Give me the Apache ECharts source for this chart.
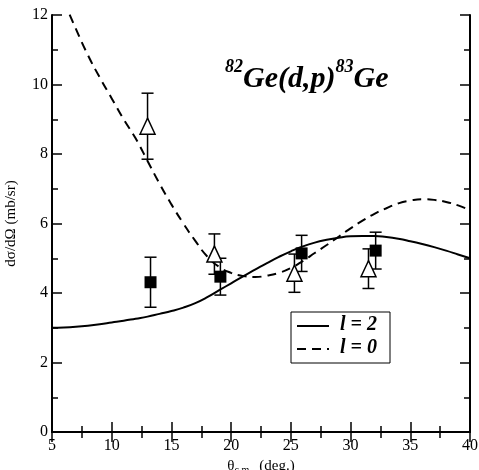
<!DOCTYPE html>
<html>
<head>
<meta charset="utf-8">
<script src="https://cdn.jsdelivr.net/npm/echarts@6/dist/echarts.min.js"></script>
<style>
  html, body { margin: 0; padding: 0; background: #fff; }
  #main { width: 479px; height: 470px; }
</style>
</head>
<body>
<div id="main"></div>
<script>
// theory curves (theta in deg., cross section in mb/sr)
const theta = [5, 6, 7, 8, 9, 10, 11, 12, 13, 14, 15, 16, 17, 18, 19, 20, 21, 22,
  23, 24, 25, 26, 27, 28, 29, 30, 31, 32, 33, 34, 35, 36, 37, 38, 39, 40];
const curveL2 = [3.0, 3.01, 3.03, 3.06, 3.1, 3.15, 3.2, 3.26, 3.32, 3.4, 3.48, 3.58, 3.71,
  3.88, 4.08, 4.28, 4.48, 4.67, 4.86, 5.04, 5.2, 5.34, 5.45, 5.53, 5.59, 5.63, 5.64, 5.64,
  5.61, 5.56, 5.49, 5.41, 5.32, 5.22, 5.11, 5.0];
const curveL0 = [13.2, 12.4, 11.6, 10.85, 10.2, 9.6, 9.0, 8.45, 7.8, 7.15, 6.55, 6.0, 5.5,
  5.05, 4.75, 4.58, 4.49, 4.46, 4.5, 4.58, 4.72, 4.92, 5.15, 5.38, 5.62, 5.86, 6.08, 6.28,
  6.44, 6.58, 6.66, 6.7, 6.68, 6.62, 6.52, 6.38];

// measured points
const squareX = [13.25, 19.1, 25.9, 32.1];
const squareY = [4.31, 4.47, 5.14, 5.22];
const squareErr = [0.72, 0.53, 0.52, 0.53];
const triX = [13.0, 18.6, 25.3, 31.5];
const triY = [8.8, 5.12, 4.57, 4.7];
const triErr = [0.95, 0.58, 0.55, 0.57];

const serif = 'Liberation Serif';

function zip(xs, ys) { return xs.map((x, i) => [x, ys[i]]); }
function zip3(xs, ys, es) { return xs.map((x, i) => [x, ys[i], es[i]]); }

function errorBars(params, api) {
  const x = api.value(0), y = api.value(1), e = api.value(2);
  const top = api.coord([x, y + e]);
  const bot = api.coord([x, y - e]);
  const hw = 6;
  const style = { stroke: '#000', lineWidth: 1.5 };
  return {
    type: 'group',
    children: [
      { type: 'line', shape: { x1: top[0], y1: top[1], x2: bot[0], y2: bot[1] }, style: style },
      { type: 'line', shape: { x1: top[0] - hw, y1: top[1], x2: top[0] + hw, y2: top[1] }, style: style },
      { type: 'line', shape: { x1: bot[0] - hw, y1: bot[1], x2: bot[0] + hw, y2: bot[1] }, style: style }
    ]
  };
}

const chart = echarts.init(document.getElementById('main'), null, { renderer: 'canvas' });

const axisCommon = {
  axisLine: { lineStyle: { color: '#000', width: 2 } },
  axisTick: { inside: true, length: 10, lineStyle: { color: '#000', width: 1.5 } },
  minorTick: { show: true, splitNumber: 2, length: 6, lineStyle: { color: '#000', width: 1.5 } },
  splitLine: { show: false }
};

const option = {
  backgroundColor: '#ffffff',
  animation: false,
  grid: { left: 52, right: 9, top: 15, bottom: 38, containLabel: false, outerBoundsMode: 'none' },
  xAxis: [
    Object.assign({
      type: 'value', min: 5, max: 40, interval: 5, position: 'bottom',
      axisLabel: { color: '#000', fontFamily: serif, fontSize: 16, margin: 6 },
      name: '{a|θ}{s|c.m.}{a|  (deg.)}',
      nameLocation: 'middle', nameGap: 25,
      nameTextStyle: {
        rich: {
          a: { fontFamily: serif, fontSize: 15, color: '#000' },
          s: { fontFamily: serif, fontSize: 10, color: '#000', padding: [8, 0, 0, 0] }
        }
      }
    }, axisCommon),
    Object.assign({
      type: 'value', min: 5, max: 40, interval: 5, position: 'top',
      axisLabel: { show: false }
    }, axisCommon)
  ],
  yAxis: [
    Object.assign({
      type: 'value', min: 0, max: 12, interval: 2, position: 'left',
      axisLabel: { color: '#000', fontFamily: serif, fontSize: 16, margin: 4 },
      name: 'dσ/dΩ (mb/sr)',
      nameLocation: 'middle', nameGap: 33, nameRotate: 90,
      nameTextStyle: { fontFamily: serif, fontSize: 15, color: '#000' }
    }, axisCommon),
    Object.assign({
      type: 'value', min: 0, max: 12, interval: 2, position: 'right',
      axisLabel: { show: false }
    }, axisCommon)
  ],
  series: [
    {
      name: 'l = 2', type: 'line', smooth: true, showSymbol: false,
      data: zip(theta, curveL2),
      lineStyle: { color: '#000', width: 2 }
    },
    {
      name: 'l = 0', type: 'line', smooth: true, showSymbol: false,
      data: zip(theta, curveL0),
      lineStyle: { color: '#000', width: 2, type: [9, 6] }
    },
    {
      type: 'custom', renderItem: errorBars, z: 3,
      data: zip3(triX, triY, triErr)
    },
    {
      type: 'custom', renderItem: errorBars, z: 3,
      data: zip3(squareX, squareY, squareErr)
    },
    {
      type: 'scatter', symbol: 'triangle', symbolSize: [15, 16], z: 4,
      itemStyle: { color: '#fff', borderColor: '#000', borderWidth: 1.5, opacity: 1 },
      data: zip(triX, triY)
    },
    {
      type: 'scatter', symbol: 'rect', symbolSize: 12, z: 4,
      itemStyle: { color: '#000', opacity: 1 },
      data: zip(squareX, squareY)
    }
  ],
  graphic: [
    {
      type: 'text', left: 225, top: 58,
      style: {
        text: '{s|82}{m|Ge(d,p)}{s|83}{m|Ge}',
        rich: {
          s: { fontFamily: serif, fontSize: 18, fontWeight: 'bold', fontStyle: 'italic', fill: '#000', verticalAlign: 'top', lineHeight: 36, padding: [0, 0, 20, 0] },
          m: { fontFamily: serif, fontSize: 30, fontWeight: 'bold', fontStyle: 'italic', fill: '#000', verticalAlign: 'bottom', lineHeight: 36 }
        }
      }
    },
    {
      type: 'rect', shape: { x: 291, y: 312, width: 99, height: 51 },
      style: { fill: '#fff', stroke: '#000', lineWidth: 1 }
    },
    {
      type: 'line', shape: { x1: 297, y1: 326, x2: 329, y2: 326 },
      style: { stroke: '#000', lineWidth: 2 }
    },
    {
      type: 'line', shape: { x1: 297, y1: 349, x2: 329, y2: 349 },
      style: { stroke: '#000', lineWidth: 2, lineDash: [9, 6] }
    },
    {
      type: 'text', left: 340, top: 315,
      style: { text: 'l = 2', fontFamily: serif, fontSize: 20, fontWeight: 'bold', fontStyle: 'italic', fill: '#000' }
    },
    {
      type: 'text', left: 340, top: 338,
      style: { text: 'l = 0', fontFamily: serif, fontSize: 20, fontWeight: 'bold', fontStyle: 'italic', fill: '#000' }
    }
  ]
};

chart.setOption(option);
</script>
</body>
</html>
